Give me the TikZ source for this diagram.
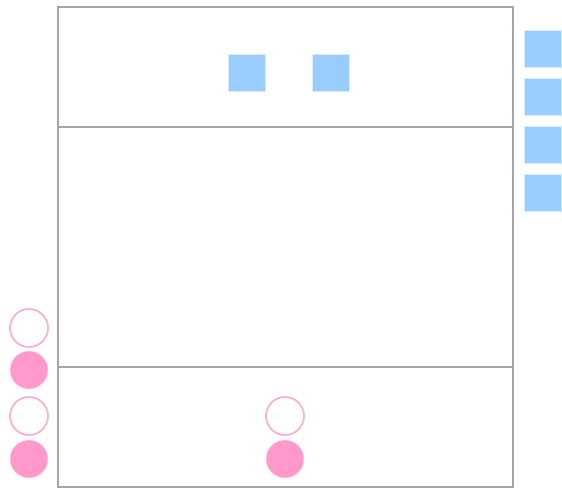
\documentclass[tikz,border=0pt]{standalone}
\usetikzlibrary{positioning}
\definecolor{boxblue}{HTML}{99CCFF}
\definecolor{dotpink}{HTML}{FF99CC}
\definecolor{framegray}{HTML}{A6A6A6}
\tikzset{
  bluebox/.style={draw=boxblue!40,fill=boxblue,line width=0.8pt,minimum size=37pt,inner sep=0pt},
  pinkring/.style={circle,draw=dotpink!80,line width=1.8pt,fill=white,minimum size=38pt,inner sep=0pt},
  pinkdot/.style={circle,draw=dotpink!40,fill=dotpink,line width=0.6pt,minimum size=38pt,inner sep=0pt}
}
\begin{document}
\begin{tikzpicture}[x=1pt,y=-1pt]
  \useasboundingbox (0,0) rectangle (562,488);
  % frame and bands
  \draw[framegray,line width=1.7pt] (58,7) rectangle (513,487);
  \draw[framegray,line width=1.7pt] (58,127) -- (513,127);
  \draw[framegray,line width=1.7pt] (58,367) -- (513,367);
  % top band squares
  \node[bluebox] (top1) at (246.5,73) {};
  \node[bluebox] (top2) at (330.5,73) {};
  % right column
  \node[bluebox] (side1) at (542.5,49) {};
  \node[bluebox,below=10.2pt of side1] (side2) {};
  \node[bluebox,below=10.2pt of side2] (side3) {};
  \node[bluebox,below=10.2pt of side3] (side4) {};
  % left circles
  \node[pinkring] (ring1) at (29,328) {};
  \node[pinkdot] (dot1) at (29,370) {};
  \node[pinkring] (ring2) at (29,416) {};
  \node[pinkdot] (dot2) at (29,459) {};
  % bottom band circles
  \node[pinkring] (ring3) at (285,416) {};
  \node[pinkdot] (dot3) at (285,459) {};
\end{tikzpicture}
\end{document}
